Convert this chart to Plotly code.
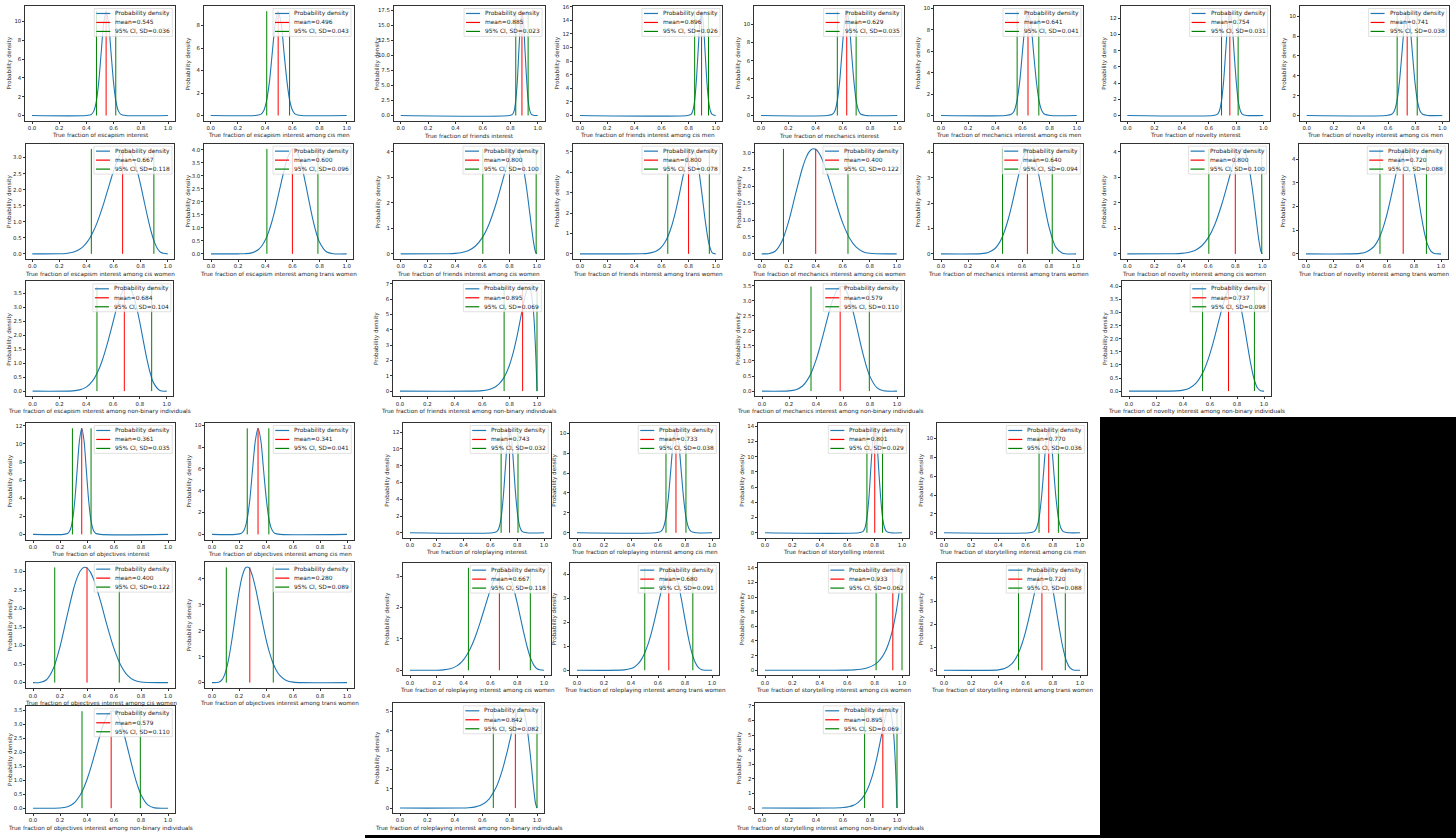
import plotly.graph_objects as go

W, H = 1456, 838

# ---------------- data ----------------
activity = ["escapism", "escapism", "friends", "friends", "mechanics", "mechanics", "novelty", "novelty",
            "escapism", "escapism", "friends", "friends", "mechanics", "mechanics", "novelty", "novelty",
            "escapism", "friends", "mechanics", "novelty",
            "objectives", "objectives", "roleplaying", "roleplaying", "storytelling", "storytelling",
            "objectives", "objectives", "roleplaying", "roleplaying", "storytelling", "storytelling",
            "objectives", "roleplaying", "storytelling"]
group = ["", "cis men", "", "cis men", "", "cis men", "", "cis men",
         "cis women", "trans women", "cis women", "trans women", "cis women", "trans women", "cis women", "trans women",
         "non-binary individuals", "non-binary individuals", "non-binary individuals", "non-binary individuals",
         "", "cis men", "", "cis men", "", "cis men",
         "cis women", "trans women", "cis women", "trans women", "cis women", "trans women",
         "non-binary individuals", "non-binary individuals", "non-binary individuals"]
means = [0.545, 0.496, 0.885, 0.896, 0.629, 0.641, 0.754, 0.741,
         0.667, 0.600, 0.800, 0.800, 0.400, 0.640, 0.800, 0.720,
         0.684, 0.895, 0.579, 0.737,
         0.361, 0.341, 0.743, 0.733, 0.801, 0.770,
         0.400, 0.280, 0.667, 0.680, 0.933, 0.720,
         0.579, 0.842, 0.895]
sds = [0.036, 0.043, 0.023, 0.026, 0.035, 0.041, 0.031, 0.038,
       0.118, 0.096, 0.100, 0.078, 0.122, 0.094, 0.100, 0.088,
       0.104, 0.069, 0.110, 0.098,
       0.035, 0.041, 0.032, 0.038, 0.029, 0.036,
       0.122, 0.089, 0.118, 0.091, 0.062, 0.088,
       0.110, 0.082, 0.069]
ci_low = [0.474, 0.412, 0.840, 0.845, 0.560, 0.561, 0.693, 0.667,
          0.436, 0.412, 0.604, 0.647, 0.161, 0.456, 0.604, 0.548,
          0.480, 0.760, 0.363, 0.545,
          0.292, 0.261, 0.680, 0.659, 0.744, 0.699,
          0.161, 0.106, 0.436, 0.502, 0.811, 0.548,
          0.363, 0.681, 0.760]
ci_high = [0.616, 0.580, 0.930, 0.947, 0.698, 0.721, 0.815, 0.815,
           0.898, 0.788, 0.996, 0.953, 0.639, 0.824, 0.996, 0.892,
           0.888, 1.000, 0.795, 0.929,
           0.430, 0.421, 0.806, 0.807, 0.858, 0.841,
           0.639, 0.454, 0.898, 0.858, 1.000, 0.892,
           0.795, 1.000, 1.000]
ytick_step = [2, 2, 2.5, 2, 2, 2, 2, 2,
              0.5, 0.5, 1, 1, 0.5, 1, 1, 1,
              0.5, 1, 0.5, 0.5,
              2, 2, 2, 2, 2, 2,
              0.5, 1, 1, 1, 2, 1,
              0.5, 1, 1]
xtick_labels = ["0.0", "0.2", "0.4", "0.6", "0.8", "1.0"]
xtick_vals = [0.0, 0.2, 0.4, 0.6, 0.8, 1.0]

# density curves
esc_all_x = [0, 0.401, 0.437, 0.455, 0.473, 0.491, 0.509, 0.527, 0.545, 0.563, 0.581, 0.599, 0.617, 0.635, 0.653, 0.689, 1]
esc_all_y = [0, 0.003, 0.12, 0.49, 1.50, 3.60, 6.72, 9.78, 11.08, 9.78, 6.72, 3.60, 1.50, 0.49, 0.12, 0.003, 0]
esc_cm_x = [0, 0.324, 0.367, 0.389, 0.410, 0.432, 0.453, 0.475, 0.496, 0.518, 0.539, 0.561, 0.582, 0.604, 0.625, 0.668, 1]
esc_cm_y = [0, 0.003, 0.10, 0.41, 1.26, 3.01, 5.63, 8.19, 9.28, 8.19, 5.63, 3.01, 1.26, 0.41, 0.10, 0.003, 0]
fr_all_x = [0, 0.793, 0.816, 0.828, 0.839, 0.851, 0.862, 0.874, 0.885, 0.897, 0.908, 0.920, 0.931, 0.943, 0.954, 0.977, 1]
fr_all_y = [0, 0.005, 0.19, 0.76, 2.35, 5.63, 10.52, 15.31, 17.35, 15.31, 10.52, 5.63, 2.35, 0.76, 0.19, 0.005, 0]
fr_cm_x = [0, 0.792, 0.818, 0.831, 0.844, 0.857, 0.870, 0.883, 0.896, 0.909, 0.922, 0.935, 0.948, 0.961, 0.974, 1]
fr_cm_y = [0, 0.005, 0.17, 0.67, 2.08, 4.98, 9.30, 13.54, 15.34, 13.54, 9.30, 4.98, 2.08, 0.67, 0.17, 0.005]
mech_all_x = [0, 0.489, 0.524, 0.542, 0.559, 0.577, 0.594, 0.612, 0.629, 0.647, 0.664, 0.682, 0.699, 0.717, 0.734, 0.769, 1]
mech_all_y = [0, 0.003, 0.13, 0.50, 1.54, 3.70, 6.91, 10.06, 11.40, 10.06, 6.91, 3.70, 1.54, 0.50, 0.13, 0.003, 0]
mech_cm_x = [0, 0.477, 0.518, 0.539, 0.559, 0.580, 0.600, 0.621, 0.641, 0.662, 0.682, 0.703, 0.723, 0.744, 0.764, 0.805, 1]
mech_cm_y = [0, 0.003, 0.11, 0.43, 1.32, 3.16, 5.90, 8.59, 9.73, 8.59, 5.90, 3.16, 1.32, 0.43, 0.11, 0.003, 0]
nov_all_x = [0, 0.630, 0.661, 0.677, 0.692, 0.708, 0.723, 0.739, 0.754, 0.770, 0.785, 0.801, 0.816, 0.832, 0.847, 0.878, 1]
nov_all_y = [0, 0.004, 0.14, 0.56, 1.74, 4.18, 7.81, 11.36, 12.87, 11.36, 7.81, 4.18, 1.74, 0.56, 0.14, 0.004, 0]
nov_cm_x = [0, 0.589, 0.627, 0.646, 0.665, 0.684, 0.703, 0.722, 0.741, 0.760, 0.779, 0.798, 0.817, 0.836, 0.855, 0.893, 1]
nov_cm_y = [0, 0.003, 0.12, 0.46, 1.42, 3.41, 6.37, 9.27, 10.50, 9.27, 6.37, 3.41, 1.42, 0.46, 0.12, 0.003, 0]

esc_cw_x = [0, 0.2, 0.25, 0.3, 0.35, 0.375, 0.4, 0.425, 0.45, 0.475, 0.5, 0.525, 0.55, 0.575, 0.6, 0.625, 0.65,
            0.675, 0.7, 0.725, 0.75, 0.775, 0.8, 0.825, 0.85, 0.875, 0.9, 0.925, 0.95, 1]
esc_cw_y = [0, 0.002, 0.012, 0.047, 0.141, 0.224, 0.340, 0.495, 0.693, 0.935, 1.223, 1.542, 1.891, 2.241, 2.584,
            2.881, 3.112, 3.250, 3.271, 3.168, 2.937, 2.586, 2.149, 1.661, 1.174, 0.735, 0.388, 0.157, 0.039, 0]
esc_tw_x = [0, 0.2, 0.25, 0.3, 0.35, 0.375, 0.4, 0.425, 0.45, 0.475, 0.5, 0.525, 0.55, 0.575, 0.6, 0.625, 0.65,
            0.675, 0.7, 0.725, 0.75, 0.775, 0.8, 0.85, 0.9, 1]
esc_tw_y = [0, 0.0003, 0.006, 0.038, 0.168, 0.311, 0.531, 0.845, 1.262, 1.768, 2.341, 2.915, 3.442, 3.830, 4.031,
            3.990, 3.717, 3.238, 2.617, 1.956, 1.332, 0.817, 0.442, 0.078, 0.005, 0]
fr_cw_x = [0, 0.3, 0.35, 0.4, 0.45, 0.5, 0.55, 0.6, 0.65, 0.7, 0.725, 0.75, 0.775, 0.8, 0.825, 0.85, 0.875, 0.9,
           0.925, 0.95, 0.975, 0.99, 1]
fr_cw_y = [0, 0.0005, 0.0045, 0.0165, 0.051, 0.133, 0.308, 0.634, 1.170, 1.942, 2.400, 2.881, 3.350, 3.755, 4.030,
           4.112, 3.930, 3.428, 2.600, 1.554, 0.517, 0.098, 0]
fr_tw_x = [0, 0.45, 0.5, 0.55, 0.575, 0.6, 0.625, 0.65, 0.675, 0.7, 0.725, 0.75, 0.775, 0.8, 0.825, 0.85, 0.875,
           0.9, 0.925, 0.95, 0.975, 1]
fr_tw_y = [0, 0.005, 0.025, 0.102, 0.188, 0.332, 0.557, 0.890, 1.355, 1.962, 2.699, 3.511, 4.293, 4.904, 5.150,
           4.908, 4.108, 2.869, 1.528, 0.501, 0.051, 0]
mech_cw_x = [0, 0.05, 0.1, 0.15, 0.2, 0.25, 0.3, 0.325, 0.35, 0.375, 0.4, 0.425, 0.45, 0.5, 0.55, 0.6, 0.65, 0.7,
             0.75, 0.8, 0.85, 1]
mech_cw_y = [0, 0.004, 0.078, 0.373, 0.968, 1.760, 2.522, 2.815, 3.016, 3.111, 3.099, 2.983, 2.784, 2.199, 1.525,
             0.918, 0.471, 0.198, 0.065, 0.015, 0.002, 0]
mech_tw_x = [0, 0.3, 0.35, 0.4, 0.425, 0.45, 0.475, 0.5, 0.525, 0.55, 0.575, 0.6, 0.625, 0.65, 0.675, 0.7, 0.725,
             0.75, 0.775, 0.8, 0.85, 0.9, 1]
mech_tw_y = [0, 0.010, 0.054, 0.212, 0.375, 0.619, 0.961, 1.404, 1.935, 2.524, 3.108, 3.629, 3.994, 4.141, 4.035,
             3.662, 3.092, 2.399, 1.687, 1.061, 0.263, 0.024, 0]
nov_cw_x = [0, 0.3, 0.35, 0.4, 0.45, 0.5, 0.55, 0.6, 0.65, 0.7, 0.725, 0.75, 0.775, 0.8, 0.825, 0.85, 0.875, 0.9,
            0.925, 0.95, 0.975, 0.99, 1]
nov_cw_y = [0, 0.0005, 0.0045, 0.0165, 0.051, 0.133, 0.308, 0.634, 1.170, 1.942, 2.400, 2.881, 3.350, 3.755, 4.030,
            4.112, 3.930, 3.428, 2.600, 1.554, 0.517, 0.098, 0]
nov_tw_x = [0, 0.4, 0.45, 0.5, 0.525, 0.55, 0.575, 0.6, 0.625, 0.65, 0.675, 0.7, 0.725, 0.75, 0.775, 0.8, 0.825,
            0.85, 0.875, 0.9, 0.925, 0.95, 1]
nov_tw_y = [0, 0.019, 0.085, 0.289, 0.486, 0.776, 1.172, 1.679, 2.282, 2.936, 3.582, 4.105, 4.424, 4.442, 4.125,
            3.494, 2.641, 1.740, 0.955, 0.403, 0.114, 0.016, 0]

esc_nb_x = [0, 0.3, 0.35, 0.4, 0.45, 0.5, 0.525, 0.55, 0.575, 0.6, 0.625, 0.65, 0.675, 0.7, 0.725, 0.75, 0.775,
            0.8, 0.825, 0.85, 0.875, 0.9, 0.95, 1]
esc_nb_y = [0, 0.010, 0.044, 0.145, 0.387, 0.850, 1.181, 1.575, 2.015, 2.482, 2.936, 3.326, 3.614, 3.747, 3.695,
            3.445, 3.013, 2.452, 1.817, 1.203, 0.685, 0.314, 0.019, 0]
fr_nb_x = [0, 0.5, 0.6, 0.65, 0.675, 0.7, 0.725, 0.75, 0.775, 0.8, 0.825, 0.85, 0.875, 0.9, 0.925, 0.94, 0.95,
           0.975, 0.99, 1]
fr_nb_y = [0, 0.002, 0.035, 0.109, 0.185, 0.305, 0.490, 0.767, 1.166, 1.724, 2.466, 3.410, 4.521, 5.666, 6.592,
           6.83, 6.733, 5.10, 2.606, 0]
mech_nb_x = [0, 0.2, 0.25, 0.3, 0.35, 0.375, 0.4, 0.425, 0.45, 0.475, 0.5, 0.525, 0.55, 0.575, 0.6, 0.625, 0.65,
             0.675, 0.7, 0.725, 0.75, 0.775, 0.8, 0.85, 0.9, 1]
mech_nb_y = [0, 0.008, 0.045, 0.170, 0.473, 0.717, 1.027, 1.398, 1.815, 2.250, 2.672, 3.037, 3.313, 3.463, 3.470,
             3.320, 3.031, 2.635, 2.162, 1.670, 1.203, 0.799, 0.481, 0.118, 0.012, 0]
nov_nb_x = [0, 0.35, 0.4, 0.45, 0.5, 0.55, 0.575, 0.6, 0.625, 0.65, 0.675, 0.7, 0.725, 0.75, 0.775, 0.8, 0.825,
            0.85, 0.875, 0.9, 0.925, 0.95, 0.975, 1]
nov_nb_y = [0, 0.009, 0.037, 0.122, 0.327, 0.741, 1.049, 1.433, 1.881, 2.377, 2.886, 3.360, 3.743, 3.975, 3.991,
            3.770, 3.294, 2.622, 1.844, 1.089, 0.492, 0.137, 0.012, 0]

obj_all_x = [0, 0.225, 0.259, 0.276, 0.293, 0.310, 0.327, 0.344, 0.361, 0.378, 0.395, 0.412, 0.429, 0.446, 0.463, 0.497, 1]
obj_all_y = [0, 0.004, 0.13, 0.51, 1.59, 3.81, 7.11, 10.35, 11.73, 10.35, 7.11, 3.81, 1.59, 0.51, 0.13, 0.004, 0]
obj_cm_x = [0, 0.177, 0.218, 0.239, 0.259, 0.280, 0.300, 0.321, 0.341, 0.362, 0.382, 0.403, 0.423, 0.444, 0.464, 0.505, 1]
obj_cm_y = [0, 0.003, 0.11, 0.43, 1.32, 3.16, 5.90, 8.59, 9.73, 8.59, 5.90, 3.16, 1.32, 0.43, 0.11, 0.003, 0]
rp_all_x = [0, 0.615, 0.647, 0.663, 0.679, 0.695, 0.711, 0.727, 0.743, 0.759, 0.775, 0.791, 0.807, 0.823, 0.839, 0.871, 1]
rp_all_y = [0, 0.004, 0.14, 0.55, 1.69, 4.05, 7.56, 11.00, 12.47, 11.00, 7.56, 4.05, 1.69, 0.55, 0.14, 0.004, 0]
rp_cm_x = [0, 0.581, 0.619, 0.638, 0.657, 0.676, 0.695, 0.714, 0.733, 0.752, 0.771, 0.790, 0.809, 0.828, 0.847, 0.885, 1]
rp_cm_y = [0, 0.003, 0.12, 0.46, 1.42, 3.41, 6.37, 9.27, 10.50, 9.27, 6.37, 3.41, 1.42, 0.46, 0.12, 0.003, 0]
st_all_x = [0, 0.685, 0.714, 0.729, 0.743, 0.758, 0.772, 0.787, 0.801, 0.816, 0.830, 0.845, 0.859, 0.874, 0.888, 0.917, 1]
st_all_y = [0, 0.004, 0.15, 0.60, 1.86, 4.47, 8.35, 12.14, 13.76, 12.14, 8.35, 4.47, 1.86, 0.60, 0.15, 0.004, 0]
st_cm_x = [0, 0.626, 0.662, 0.680, 0.698, 0.716, 0.734, 0.752, 0.770, 0.788, 0.806, 0.824, 0.842, 0.860, 0.878, 0.914, 1]
st_cm_y = [0, 0.003, 0.12, 0.49, 1.50, 3.60, 6.72, 9.78, 11.08, 9.78, 6.72, 3.60, 1.50, 0.49, 0.12, 0.003, 0]

obj_cw_x = [0, 0.05, 0.1, 0.15, 0.2, 0.25, 0.3, 0.325, 0.35, 0.375, 0.4, 0.425, 0.45, 0.5, 0.55, 0.6, 0.65, 0.7,
            0.75, 0.8, 0.85, 1]
obj_cw_y = [0, 0.004, 0.078, 0.373, 0.968, 1.760, 2.522, 2.815, 3.016, 3.111, 3.099, 2.983, 2.784, 2.199, 1.525,
            0.918, 0.471, 0.198, 0.065, 0.015, 0.002, 0]
obj_tw_x = [0, 0.05, 0.075, 0.1, 0.125, 0.15, 0.175, 0.2, 0.225, 0.25, 0.275, 0.3, 0.325, 0.35, 0.375, 0.4, 0.425,
            0.45, 0.475, 0.5, 0.55, 0.6, 1]
obj_tw_y = [0, 0.016, 0.114, 0.403, 0.955, 1.740, 2.641, 3.494, 4.125, 4.442, 4.424, 4.105, 3.582, 2.936, 2.282,
            1.679, 1.172, 0.776, 0.486, 0.289, 0.085, 0.019, 0]
rp_cw_x = [0, 0.2, 0.25, 0.3, 0.35, 0.375, 0.4, 0.425, 0.45, 0.475, 0.5, 0.525, 0.55, 0.575, 0.6, 0.625, 0.65,
           0.675, 0.7, 0.725, 0.75, 0.775, 0.8, 0.825, 0.85, 0.875, 0.9, 0.925, 0.95, 1]
rp_cw_y = [0, 0.002, 0.012, 0.047, 0.141, 0.224, 0.340, 0.495, 0.693, 0.935, 1.223, 1.542, 1.891, 2.241, 2.584,
           2.881, 3.112, 3.250, 3.271, 3.168, 2.937, 2.586, 2.149, 1.661, 1.174, 0.735, 0.388, 0.157, 0.039, 0]
rp_tw_x = [0, 0.35, 0.4, 0.425, 0.45, 0.475, 0.5, 0.525, 0.55, 0.575, 0.6, 0.625, 0.65, 0.675, 0.7, 0.725, 0.75,
           0.775, 0.8, 0.825, 0.85, 0.875, 0.9, 0.925, 1]
rp_tw_y = [0, 0.015, 0.071, 0.139, 0.253, 0.435, 0.702, 1.069, 1.542, 2.104, 2.721, 3.327, 3.842, 4.191, 4.276,
           4.076, 3.600, 2.910, 2.121, 1.362, 0.747, 0.332, 0.109, 0.023, 0]
st_cw_x = [0, 0.5, 0.6, 0.65, 0.7, 0.75, 0.8, 0.825, 0.85, 0.875, 0.9, 0.925, 0.95, 0.975, 0.99, 1]
st_cw_y = [0, 0.002, 0.018, 0.052, 0.136, 0.333, 0.770, 1.148, 1.692, 2.468, 3.558, 5.079, 7.186, 10.08, 12.29, 14.0]
st_tw_x = [0, 0.4, 0.45, 0.5, 0.525, 0.55, 0.575, 0.6, 0.625, 0.65, 0.675, 0.7, 0.725, 0.75, 0.775, 0.8, 0.825,
           0.85, 0.875, 0.9, 0.925, 0.95, 1]
st_tw_y = [0, 0.019, 0.085, 0.289, 0.486, 0.776, 1.172, 1.679, 2.282, 2.936, 3.582, 4.105, 4.424, 4.442, 4.125,
           3.494, 2.641, 1.740, 0.955, 0.403, 0.114, 0.016, 0]

obj_nb_x = [0, 0.2, 0.25, 0.3, 0.35, 0.375, 0.4, 0.425, 0.45, 0.475, 0.5, 0.525, 0.55, 0.575, 0.6, 0.625, 0.65,
            0.675, 0.7, 0.725, 0.75, 0.775, 0.8, 0.85, 0.9, 1]
obj_nb_y = [0, 0.008, 0.045, 0.170, 0.473, 0.717, 1.027, 1.398, 1.815, 2.250, 2.672, 3.037, 3.313, 3.463, 3.470,
            3.320, 3.031, 2.635, 2.162, 1.670, 1.203, 0.799, 0.481, 0.118, 0.012, 0]
rp_nb_x = [0, 0.45, 0.5, 0.55, 0.6, 0.65, 0.7, 0.725, 0.75, 0.775, 0.8, 0.825, 0.85, 0.875, 0.9, 0.925, 0.95,
           0.975, 0.99, 1]
rp_nb_y = [0, 0.005, 0.019, 0.063, 0.184, 0.468, 1.045, 1.487, 2.042, 2.707, 3.445, 4.183, 4.811, 5.160, 5.038,
           4.272, 2.835, 1.046, 0.211, 0]
st_nb_x = [0, 0.5, 0.6, 0.65, 0.675, 0.7, 0.725, 0.75, 0.775, 0.8, 0.825, 0.85, 0.875, 0.9, 0.925, 0.94, 0.95,
           0.975, 0.99, 1]
st_nb_y = [0, 0.002, 0.035, 0.109, 0.185, 0.305, 0.490, 0.767, 1.166, 1.724, 2.466, 3.410, 4.521, 5.666, 6.592,
           6.83, 6.733, 5.10, 2.606, 0]

curves_x = [esc_all_x, esc_cm_x, fr_all_x, fr_cm_x, mech_all_x, mech_cm_x, nov_all_x, nov_cm_x,
            esc_cw_x, esc_tw_x, fr_cw_x, fr_tw_x, mech_cw_x, mech_tw_x, nov_cw_x, nov_tw_x,
            esc_nb_x, fr_nb_x, mech_nb_x, nov_nb_x,
            obj_all_x, obj_cm_x, rp_all_x, rp_cm_x, st_all_x, st_cm_x,
            obj_cw_x, obj_tw_x, rp_cw_x, rp_tw_x, st_cw_x, st_tw_x,
            obj_nb_x, rp_nb_x, st_nb_x]
curves_y = [esc_all_y, esc_cm_y, fr_all_y, fr_cm_y, mech_all_y, mech_cm_y, nov_all_y, nov_cm_y,
            esc_cw_y, esc_tw_y, fr_cw_y, fr_tw_y, mech_cw_y, mech_tw_y, nov_cw_y, nov_tw_y,
            esc_nb_y, fr_nb_y, mech_nb_y, nov_nb_y,
            obj_all_y, obj_cm_y, rp_all_y, rp_cm_y, st_all_y, st_cm_y,
            obj_cw_y, obj_tw_y, rp_cw_y, rp_tw_y, st_cw_y, st_tw_y,
            obj_nb_y, rp_nb_y, st_nb_y]

# ---------------- layout (pixel positions of each panel) ----------------
pos_x0 = [32, 210.7, 400.7, 580, 761, 941, 1127.3, 1306.7,
          32.3, 211, 400.7, 580, 761.7, 941, 1127.3, 1306,
          32.6, 400, 762, 1129,
          33, 212, 410, 577, 765, 944,
          33, 212, 410, 577, 765, 944,
          33, 400, 762]
pos_x1 = [168, 346.7, 537.7, 715.7, 897.3, 1076.7, 1263.3, 1442.3,
          167.7, 346.7, 536.7, 715.7, 896.7, 1076, 1262.3, 1441,
          166.7, 537, 897, 1264,
          168, 347, 544, 712, 902, 1080,
          168, 347, 544, 712, 902, 1080,
          168, 537, 897]
pos_top = [4] * 8 + [142] * 8 + [280] * 4 + [422] * 6 + [561, 561, 562, 562, 562, 562] + [706, 703, 703]
pos_bot = [119] * 8 + [257.7] * 8 + [395.3] * 4 + [539, 539, 537.3, 537.3, 537.3, 537.3] + \
          [688, 688, 675, 675, 675, 675] + [813, 813, 813]

BLUE = "#1f77b4"
RED = "#ff0000"
GREEN = "#008000"
FONT = "DejaVu Sans"
FS_TICK = 5.4
FS_LAB = 5.7
FS_LEG = 5.9
TXT = "#222222"


def px(x):
    return x / W


def py(y):
    return 1 - y / H


fig = go.Figure()
shapes = []
annotations = []
axes = {}

for i in range(len(means)):
    n = i + 1
    xa = "x" if n == 1 else f"x{n}"
    ya = "y" if n == 1 else f"y{n}"
    xkey = "xaxis" if n == 1 else f"xaxis{n}"
    ykey = "yaxis" if n == 1 else f"yaxis{n}"
    x0, x1 = pos_x0[i], pos_x1[i]
    span = x1 - x0
    left = x0 - 0.05 * span
    right = x1 + 0.05 * span
    top, bot = pos_top[i], pos_bot[i]
    peak = max(curves_y[i])

    fig.add_trace(go.Scatter(x=curves_x[i], y=curves_y[i], mode="lines",
                             line=dict(color=BLUE, width=1.1, shape="spline", smoothing=0.8),
                             xaxis=xa, yaxis=ya, showlegend=False, hoverinfo="skip"))
    fig.add_trace(go.Scatter(x=[means[i], means[i]], y=[0, peak], mode="lines",
                             line=dict(color=RED, width=1), xaxis=xa, yaxis=ya,
                             showlegend=False, hoverinfo="skip"))
    for v in (ci_low[i], ci_high[i]):
        fig.add_trace(go.Scatter(x=[v, v], y=[0, peak], mode="lines",
                                 line=dict(color=GREEN, width=1), xaxis=xa, yaxis=ya,
                                 showlegend=False, hoverinfo="skip"))

    step = ytick_step[i]
    axes[xkey] = dict(domain=[px(left), px(right)], range=[-0.05, 1.05], anchor=ya,
                      tickmode="array", tickvals=xtick_vals, ticktext=xtick_labels,
                      showline=True, mirror=True, linecolor="#333333", linewidth=0.7,
                      ticks="outside", ticklen=2, tickwidth=0.6, tickcolor="#333333",
                      tickfont=dict(family=FONT, size=FS_TICK, color=TXT),
                      showgrid=False, zeroline=False)
    axes[ykey] = dict(domain=[py(bot), py(top)], range=[-0.05 * peak, 1.05 * peak], anchor=xa,
                      tickmode="linear", tick0=0, dtick=step,
                      tickformat=".1f" if step != int(step) else "d",
                      showline=True, mirror=True, linecolor="#333333", linewidth=0.7,
                      ticks="outside", ticklen=2, tickwidth=0.6, tickcolor="#333333",
                      tickfont=dict(family=FONT, size=FS_TICK, color=TXT),
                      showgrid=False, zeroline=False)

    # legend box (upper right)
    lw, lh = 78, 28
    lr = right - 2.5
    lt = top + 2.5
    ll = lr - lw
    shapes.append(dict(type="rect", xref="paper", yref="paper",
                       x0=px(ll), x1=px(lr), y0=py(lt + lh), y1=py(lt),
                       fillcolor="rgba(255,255,255,0.8)", line=dict(color="#cccccc", width=0.6),
                       layer="above"))
    entries = [(BLUE, "Probability density"),
               (RED, f"mean={means[i]:.3f}"),
               (GREEN, f"95% CI, SD={sds[i]:.3f}")]
    for k, (col, txt) in enumerate(entries):
        yy = lt + 5 + k * 9
        shapes.append(dict(type="line", xref="paper", yref="paper",
                           x0=px(ll + 2), x1=px(ll + 16), y0=py(yy), y1=py(yy),
                           line=dict(color=col, width=1.2), layer="above"))
        annotations.append(dict(xref="paper", yref="paper", x=px(ll + 19), y=py(yy),
                                text=txt, showarrow=False, xanchor="left", yanchor="middle",
                                font=dict(family=FONT, size=FS_LEG, color=TXT)))

    title = f"True fraction of {activity[i]} interest"
    if group[i]:
        title += f" among {group[i]}"
    annotations.append(dict(xref="paper", yref="paper", x=px((left + right) / 2), y=py(bot + 15),
                            text=title, showarrow=False, xanchor="center", yanchor="middle",
                            font=dict(family=FONT, size=FS_LAB, color=TXT)))
    annotations.append(dict(xref="paper", yref="paper", x=px(left - 16), y=py((top + bot) / 2),
                            text="Probability density", showarrow=False, textangle=-90,
                            xanchor="center", yanchor="middle",
                            font=dict(family=FONT, size=FS_LAB, color=TXT)))

# black areas of the collage
shapes.append(dict(type="rect", xref="paper", yref="paper", x0=px(1100), x1=1, y0=0, y1=py(416),
                   fillcolor="black", line=dict(width=0), layer="above"))
shapes.append(dict(type="rect", xref="paper", yref="paper", x0=px(365), x1=px(1100), y0=0, y1=py(835),
                   fillcolor="black", line=dict(width=0), layer="above"))

fig.update_layout(width=W, height=H, margin=dict(l=0, r=0, t=0, b=0),
                  paper_bgcolor="white", plot_bgcolor="white",
                  shapes=shapes, annotations=annotations, showlegend=False, **axes)

fig.write_html("out.html", config={"displayModeBar": False},
               post_script="document.body.style.margin='0';document.body.style.padding='0';"
                           "document.body.style.overflow='hidden';")
